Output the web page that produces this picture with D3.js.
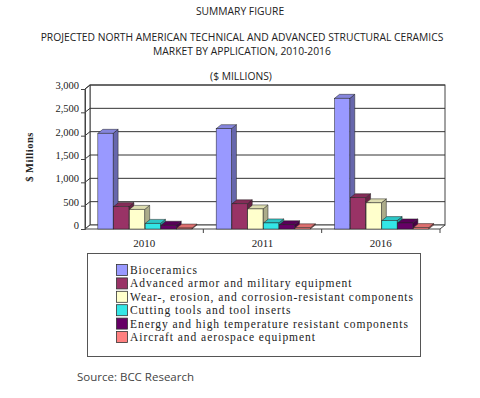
<!DOCTYPE html>
<html>
<head>
<meta charset="utf-8">
<script src="https://cdn.jsdelivr.net/npm/d3@7"></script>
<style>
  body { margin: 0; background: #fff; }
  svg { display: block; }
</style>
</head>
<body>
<svg id="chart" width="480" height="398"></svg>
<script>
// data ($ millions)
var years = ['2010', '2011', '2016'];
var series = [
    'Bioceramics',
    'Advanced armor and  military equipment',
    'Wear-, erosion, and corrosion-resistant components',
    'Cutting tools and tool inserts',
    'Energy and high temperature resistant components',
    'Aircraft and aerospace equipment'
];
var bioceramics = [2050, 2150, 2800];
var armor = [480, 540, 670];
var wear = [420, 430, 560];
var cutting = [120, 130, 180];
var energy = [80, 90, 130];
var aircraft = [20, 25, 30];
var yTicks = [0, 500, 1000, 1500, 2000, 2500, 3000];

var values = [bioceramics, armor, wear, cutting, energy, aircraft];
var colors = ['#9999ff', '#993366', '#ffffcc', '#33e6e6', '#660066', '#ff8080'];

var svg = d3.select('#chart');
var dx = 5, dy = 4;            // 3d depth offset
var pLeft = 85, pRight = 440, pTop = 85, pBottom = 225;

var y = d3.scaleLinear().domain([0, 3000]).range([pBottom, pTop]);
var x = d3.scaleBand().domain(years).range([pLeft, pRight]);
var xs = d3.scaleBand().domain(d3.range(series.length))
    .range([0, x.bandwidth()]).paddingOuter(0.75).paddingInner(0);

// titles
var tfont = '"Open Sans", sans-serif';
svg.append('text').attr('x', 240).attr('y', 15).attr('text-anchor', 'middle')
    .style('font', '10.3px ' + tfont).attr('fill', '#222').text('SUMMARY FIGURE');
svg.append('text').attr('x', 242).attr('y', 41).attr('text-anchor', 'middle')
    .style('font', '10.3px ' + tfont).attr('fill', '#222')
    .text('PROJECTED NORTH AMERICAN TECHNICAL AND ADVANCED STRUCTURAL CERAMICS');
svg.append('text').attr('x', 242).attr('y', 55).attr('text-anchor', 'middle')
    .style('font', '10.3px ' + tfont).attr('fill', '#222')
    .text('MARKET BY APPLICATION, 2010-2016');
svg.append('text').attr('x', 241).attr('y', 80).attr('text-anchor', 'middle')
    .style('font', '10.3px ' + tfont).attr('fill', '#222').text('($ MILLIONS)');

// walls
var g = svg.append('g');
g.append('rect').attr('x', pLeft + dx).attr('y', pTop).attr('width', pRight - pLeft)
    .attr('height', pBottom - pTop).attr('fill', '#fff').attr('stroke', '#444');
// side wall
g.append('path')
    .attr('d', 'M' + pLeft + ',' + (pTop + dy) + 'L' + (pLeft + dx) + ',' + pTop +
        'L' + (pLeft + dx) + ',' + pBottom + 'L' + pLeft + ',' + (pBottom + dy) + 'Z')
    .attr('fill', '#fff').attr('stroke', '#444');
// floor
g.append('path')
    .attr('d', 'M' + pLeft + ',' + (pBottom + dy) + 'L' + (pLeft + dx) + ',' + pBottom +
        'L' + (pRight + dx) + ',' + pBottom + 'L' + pRight + ',' + (pBottom + dy) + 'Z')
    .attr('fill', '#fff').attr('stroke', '#444');

// gridlines
yTicks.forEach(function (t) {
    if (t === 0) return;
    g.append('line').attr('x1', pLeft + dx).attr('x2', pRight + dx)
        .attr('y1', y(t)).attr('y2', y(t)).attr('stroke', '#333');
    g.append('line').attr('x1', pLeft).attr('x2', pLeft + dx)
        .attr('y1', y(t) + dy).attr('y2', y(t)).attr('stroke', '#333');
});

// y axis
var yAxis = d3.axisLeft(d3.scaleLinear().domain([0, 3000]).range([pBottom + dy, pTop + dy]))
    .tickValues(yTicks).tickSize(4).tickPadding(2).tickFormat(d3.format(','));
var ya = svg.append('g').attr('transform', 'translate(' + pLeft + ',0)').call(yAxis);
ya.select('.domain').attr('stroke', '#444');
ya.selectAll('line').attr('stroke', '#444');
ya.selectAll('text').style('font', '10.5px "Liberation Serif", serif').attr('fill', '#222')
    .attr('dy', '-0.05em');

// x axis
var xAxis = d3.axisBottom(x).tickSize(0).tickPadding(10);
var xa = svg.append('g').attr('transform', 'translate(0,' + (pBottom + dy) + ')').call(xAxis);
xa.select('.domain').remove();
xa.selectAll('text').style('font', '11px "Liberation Serif", serif').attr('fill', '#222');
years.forEach(function (yr) {
    svg.append('line').attr('x1', x(yr) + x.bandwidth()).attr('x2', x(yr) + x.bandwidth())
        .attr('y1', pBottom + dy).attr('y2', pBottom + dy + 4).attr('stroke', '#444');
});

// y title
svg.append('text').attr('transform', 'translate(33,157) rotate(-90)')
    .attr('text-anchor', 'middle')
    .style('font', 'bold 10.5px "Liberation Serif", serif').attr('fill', '#222')
    .style('letter-spacing', '0.5px')
    .text('$ Millions');

// 3d bars
var bars = svg.append('g');
series.forEach(function (s, si) {
    var c = d3.color(colors[si]);
    years.forEach(function (yr, yi) {
        var v = values[si][yi];
        var x0 = x(yr) + xs(si) + 1, w = xs.bandwidth() - 0.5;
        var yt = y(v) + dy, yb = y(0) + dy;
        var bg = bars.append('g');
        // side
        bg.append('path')
            .attr('d', 'M' + (x0 + w) + ',' + yt + 'L' + (x0 + w + dx) + ',' + (yt - dy) +
                'L' + (x0 + w + dx) + ',' + (yb - dy) + 'L' + (x0 + w) + ',' + yb + 'Z')
            .attr('fill', c.darker(1.1)).attr('stroke', '#222').attr('stroke-width', 0.5);
        // top
        bg.append('path')
            .attr('d', 'M' + x0 + ',' + yt + 'L' + (x0 + dx) + ',' + (yt - dy) +
                'L' + (x0 + w + dx) + ',' + (yt - dy) + 'L' + (x0 + w) + ',' + yt + 'Z')
            .attr('fill', c.darker(0.4)).attr('stroke', '#222').attr('stroke-width', 0.5);
        // front
        bg.append('rect').attr('x', x0).attr('y', yt).attr('width', w).attr('height', yb - yt)
            .attr('fill', c).attr('stroke', '#222').attr('stroke-width', 0.5);
    });
});

// legend
var lg = svg.append('g');
lg.append('rect').attr('x', 87.5).attr('y', 253.5).attr('width', 333).attr('height', 103)
    .attr('fill', '#fff').attr('stroke', '#555');
series.forEach(function (s, i) {
    var ly = 270 + i * 13.4;
    lg.append('rect').attr('x', 116.5).attr('y', ly - 5.5).attr('width', 11).attr('height', 11)
        .attr('fill', colors[i]).attr('stroke', '#333').attr('stroke-width', 0.8);
    lg.append('text').attr('x', 130).attr('y', ly + 4)
        .style('font', '11.5px "Liberation Serif", serif').style('letter-spacing', '0.95px')
        .attr('fill', '#222').text(s);
});

// source
svg.append('text').attr('x', 77).attr('y', 381)
    .style('font', '11.5px ' + tfont).attr('fill', '#444').text('Source: BCC Research');
</script>
</body>
</html>
